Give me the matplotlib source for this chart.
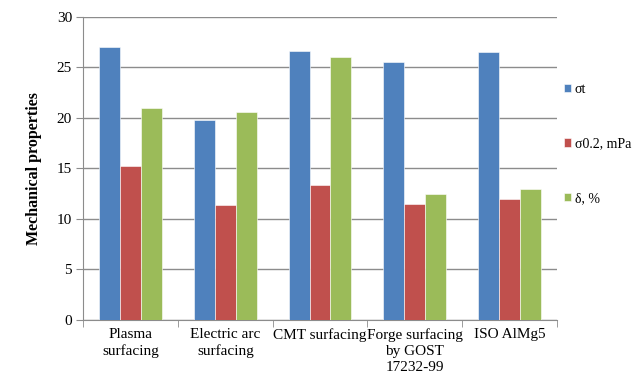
import matplotlib.pyplot as plt
import numpy as np

plt.rcParams['font.family'] = ['Liberation Serif', 'DejaVu Serif']

# data
categories = ["Plasma\nsurfacing", "Electric arc\nsurfacing", "CMT surfacing",
              "Forge surfacing\nby GOST\n17232-99", "ISO AlMg5"]
sigma_t = [27.0, 19.8, 26.6, 25.5, 26.5]
sigma_02 = [15.2, 11.4, 13.4, 11.5, 12.0]
delta = [21.0, 20.6, 26.0, 12.5, 13.0]
series_names = ["σt", "σ0.2, mPa", "δ, %"]
colors = ["#4F81BD", "#C0504D", "#9BBB59"]

fig = plt.figure(figsize=(6.4, 3.77), dpi=100)
ax = fig.add_axes([0.13, 0.151, 0.74, 0.805])

x = np.arange(len(categories))
w = 0.22
for i, (vals, name, c) in enumerate(zip([sigma_t, sigma_02, delta], series_names, colors)):
    ax.bar(x + (i - 1) * w, vals, w, color=c, edgecolor="white", linewidth=0.4,
           label=name, zorder=3)

ax.set_xlim(-0.5, len(categories) - 0.5)
ax.set_ylim(0, 30)
ax.set_yticks(np.arange(0, 31, 5))
ax.grid(axis="y", color="#8c8c8c", linewidth=1, zorder=0)

# category labels in the middle, tick marks on the boundaries
ax.set_xticks(x)
ax.set_xticklabels(categories, fontsize=11, linespacing=1.3)
ax.tick_params(axis="x", length=0, pad=6)
ax.set_xticks(np.arange(-0.5, len(categories)), minor=True)
ax.tick_params(axis="x", which="minor", length=5, color="#8c8c8c")
ax.tick_params(axis="y", labelsize=11, length=5, color="#8c8c8c", pad=3)

for s in ["top", "right"]:
    ax.spines[s].set_visible(False)
ax.spines["left"].set_color("#8c8c8c")
ax.spines["bottom"].set_color("#8c8c8c")

ax.set_ylabel("Mechanical properties", fontsize=11.5, fontweight="bold", labelpad=11)

ax.legend(loc="center left", bbox_to_anchor=(1.0, 0.58), frameon=False,
          fontsize=10, handlelength=0.55, handleheight=0.55, handletextpad=0.25,
          labelspacing=3.0, borderaxespad=0.1)

plt.savefig("out.png", dpi=100)
